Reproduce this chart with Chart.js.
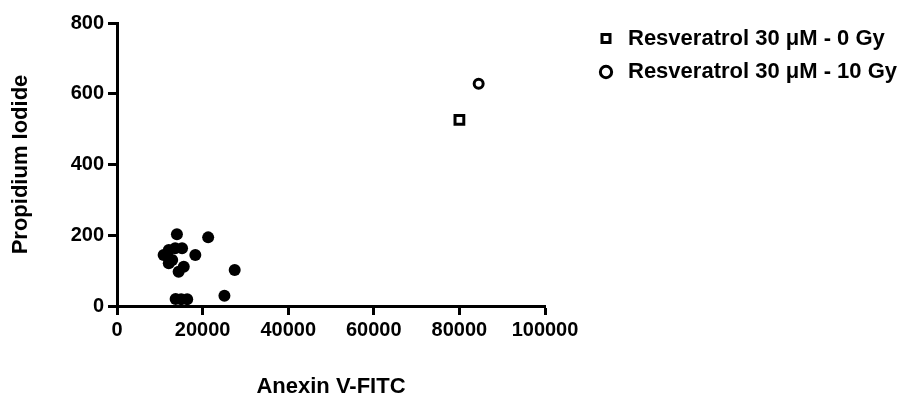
<!DOCTYPE html>
<html>
<head>
<meta charset="utf-8">
<script src="https://cdn.jsdelivr.net/npm/chart.js@4.4.1/dist/chart.umd.min.js"></script>
<style>
  body { margin: 0; background: #fff; }
  .wrap { width: 921px; height: 397px; }
</style>
</head>
<body>
<div class="wrap"><canvas id="chart"></canvas></div>
<script>
// data
const controlX = [10900, 12100, 13600, 15200, 12900, 18300, 15600, 14400, 14000, 21300, 27500, 25100, 13700, 15000, 16400, 12100]
const controlY = [144, 158, 163, 163, 130, 144, 111, 97, 203, 194, 102, 29, 20, 19, 19, 121]
const res0X = [80000]
const res0Y = [526]
const res10X = [84500]
const res10Y = [628]
const seriesNames = ['Control', 'Resveratrol 30 \u03bcM - 0 Gy', 'Resveratrol 30 \u03bcM - 10 Gy']
const xTicks = [0, 20000, 40000, 60000, 80000, 100000]
const yTicks = [0, 200, 400, 600, 800]

const FONT = 'Arial, "Liberation Sans", sans-serif'

function toPoints(xs, ys) {
    return xs.map(function (x, i) { return { x: x, y: ys[i] } })
}

// legend sits to the right of the plot, a bit away from the axis end
const legendSpot = {
    id: 'legendSpot',
    beforeLayout(chart) {
        const legend = chart.legend
        if (!legend || legend._spotted) return
        const fit = legend.fit
        legend.fit = function () {
            fit.call(this)
            this.width = 376
        }
        legend._spotted = true
    },
    afterLayout(chart) {
        const legend = chart.legend
        legend.left += 38.5
        legend.top -= 7
    }
}

const axisStyle = {
    border: { display: true, color: '#000', width: 3 },
    grid: { display: true, drawOnChartArea: false, drawTicks: true, tickLength: 9, tickWidth: 3, tickColor: '#000' },
}

new Chart(document.getElementById('chart'), {
    type: 'scatter',
    data: {
        datasets: [
            {
                label: seriesNames[0],
                data: toPoints(controlX, controlY),
                pointStyle: 'circle',
                pointRadius: 6,
                backgroundColor: '#000',
                borderColor: '#000',
                borderWidth: 0
            },
            {
                label: seriesNames[1],
                data: toPoints(res0X, res0Y),
                pointStyle: 'rect',
                pointRadius: 6.2,
                backgroundColor: '#fff',
                borderColor: '#000',
                borderWidth: 3
            },
            {
                label: seriesNames[2],
                data: toPoints(res10X, res10Y),
                pointStyle: 'circle',
                pointRadius: 4.5,
                backgroundColor: '#fff',
                borderColor: '#000',
                borderWidth: 3
            }
        ]
    },
    plugins: [legendSpot],
    options: {
        responsive: true,
        maintainAspectRatio: false,
        animation: false,
        layout: { padding: { left: 0, top: 23, right: 0, bottom: 0 } },
        plugins: {
            tooltip: { enabled: false },
            legend: {
                position: 'right',
                align: 'start',
                labels: {
                    filter: function (item) { return item.datasetIndex > 0 },
                    usePointStyle: true,
                    boxWidth: 22,
                    boxHeight: 8,
                    padding: 11.5,
                    color: '#000',
                    font: { family: FONT, size: 22, weight: 'bold' }
                }
            }
        },
        scales: {
            x: {
                type: 'linear',
                min: 0,
                max: 100000,
                afterBuildTicks: function (scale) { scale.ticks = xTicks.map(function (v) { return { value: v } }) },
                afterFit: function (scale) { scale.height = 91 },
                ...axisStyle,
                ticks: {
                    color: '#000', padding: 3, maxRotation: 0,
                    font: { family: FONT, size: 20, weight: 'bold' },
                    callback: function (v) { return String(v) }
                },
                title: { display: true, text: 'Anexin V-FITC', color: '#000', padding: { top: 0, bottom: -3 }, font: { family: FONT, size: 22, weight: 'bold' } }
            },
            y: {
                type: 'linear',
                min: 0,
                max: 800,
                afterBuildTicks: function (scale) { scale.ticks = yTicks.map(function (v) { return { value: v } }) },
                afterFit: function (scale) { scale.width = 117 },
                ...axisStyle,
                ticks: {
                    color: '#000', padding: 4,
                    font: { family: FONT, size: 20, weight: 'bold' },
                    callback: function (v) { return String(v) }
                },
                title: { display: true, text: 'Propidium Iodide', color: '#000', padding: { top: 8, bottom: 0 }, font: { family: FONT, size: 22, weight: 'bold' } }
            }
        }
    }
})
</script>
</body>
</html>
